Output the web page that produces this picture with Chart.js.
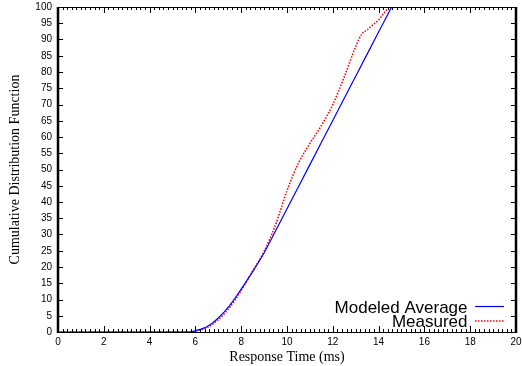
<!DOCTYPE html>
<html>
<head>
<meta charset="utf-8">
<script src="https://cdn.jsdelivr.net/npm/chart.js@4.4.0/dist/chart.umd.min.js"></script>
<style>
  html, body { margin: 0; padding: 0; background: #fff; }
  #wrap { width: 522px; height: 366px; }
</style>
</head>
<body>
<div id="wrap"><canvas id="cdf"></canvas></div>
<script>
// response time (ms) vs cumulative %
const modelX = [0, 5.8, 6, 6.25, 6.5, 6.75, 7, 7.25, 7.5, 7.75, 8, 8.25, 8.5, 8.75, 9, 9.5, 10, 10.5, 11, 11.5, 12, 12.5, 13, 13.5, 14, 14.57, 20];
const modelY = [0, 0, 0.4, 0.9, 1.6, 2.8, 4.3, 6.1, 8.2, 10.6, 13.2, 15.9, 18.6, 21.4, 24.3, 31.1, 37.9, 44.7, 51.5, 58.3, 65.1, 71.9, 78.7, 85.5, 92.3, 100, 100];

const measX = [0, 5.9, 6, 6.5, 7, 7.5, 8, 8.5, 9, 9.5, 10, 10.5, 11, 11.5, 12, 12.5, 13, 13.25, 13.5, 13.75, 14, 14.25, 14.5, 20];
const measY = [0, 0, 0.3, 1.3, 3.8, 7.6, 12.8, 18.7, 24.8, 33, 43.5, 52, 58, 63.5, 70, 78.5, 87.8, 91.5, 93, 94.5, 96, 98.2, 100, 100];

const labels = ["Modeled Average", "Measured"];
const xTicks = [0, 2, 4, 6, 8, 10, 12, 14, 16, 18, 20];
const yTicks = [0, 5, 10, 15, 20, 25, 30, 35, 40, 45, 50, 55, 60, 65, 70, 75, 80, 85, 90, 95, 100];

const toPts = (xs, ys) => xs.map((x, i) => ({ x: x, y: ys[i] }));

// gnuplot style frame with inward ticks
const framePlugin = {
  id: "frame",
  afterDatasetsDraw(chart) {
    const { ctx, chartArea: a, scales } = chart;
    const sx = scales.x, sy = scales.y;
    ctx.save();
    ctx.strokeStyle = "#000";
    ctx.lineWidth = 1;
    ctx.beginPath();
    // minor ticks every 0.2 on top and bottom
    for (let v = 0; v <= 20.001; v += 0.2) {
      const px = Math.round(sx.getPixelForValue(v)) + 0.5;
      ctx.moveTo(px, a.bottom); ctx.lineTo(px, a.bottom - 3);
      ctx.moveTo(px, a.top); ctx.lineTo(px, a.top + 3);
    }
    xTicks.forEach(v => {
      const px = Math.round(sx.getPixelForValue(v)) + 0.5;
      ctx.moveTo(px, a.bottom); ctx.lineTo(px, a.bottom - 6);
      ctx.moveTo(px, a.top); ctx.lineTo(px, a.top + 6);
    });
    yTicks.forEach(v => {
      const py = Math.round(sy.getPixelForValue(v)) + 0.5;
      ctx.moveTo(a.left, py); ctx.lineTo(a.left + 5, py);
      ctx.moveTo(a.right, py); ctx.lineTo(a.right - 5, py);
    });
    ctx.moveTo(a.left, a.top + 0.5); ctx.lineTo(a.right, a.top + 0.5);
    ctx.moveTo(a.left, a.bottom + 0.5); ctx.lineTo(a.right, a.bottom + 0.5);
    ctx.stroke();
    ctx.lineWidth = 2.5;
    ctx.beginPath();
    ctx.moveTo(a.left, a.top); ctx.lineTo(a.left, a.bottom + 1);
    ctx.moveTo(a.right, a.top); ctx.lineTo(a.right, a.bottom + 1);
    ctx.stroke();

    // key, bottom right inside the plot
    ctx.font = "17px 'Liberation Sans', Arial, sans-serif";
    ctx.textAlign = "right";
    ctx.textBaseline = "alphabetic";
    ctx.fillStyle = "#000";
    chart.data.datasets.forEach((ds, i) => {
      const y = 312.5 + i * 14.5;
      ctx.fillText(ds.label, 467.5, y);
      ctx.strokeStyle = ds.borderColor;
      ctx.lineWidth = ds.borderWidth;
      ctx.setLineDash(ds.borderDash || []);
      ctx.beginPath();
      ctx.moveTo(475, y - 6); ctx.lineTo(504, y - 6);
      ctx.stroke();
      ctx.setLineDash([]);
    });
    ctx.restore();
  }
};

new Chart(document.getElementById("cdf"), {
  type: "line",
  data: {
    datasets: [
      {
        label: labels[0],
        data: toPts(modelX, modelY),
        borderColor: "#0000ff",
        borderWidth: 1.2,
        pointRadius: 0,
        tension: 0
      },
      {
        label: labels[1],
        data: toPts(measX, measY),
        borderColor: "#ff0000",
        borderWidth: 1.6,
        borderDash: [1.5, 1.5],
        pointRadius: 0,
        cubicInterpolationMode: "monotone"
      }
    ]
  },
  plugins: [framePlugin],
  options: {
    responsive: true,
    maintainAspectRatio: false,
    animation: false,
    layout: { padding: { top: 7, right: 6, bottom: 0, left: 0 } },
    plugins: { legend: { display: false }, tooltip: { enabled: false } },
    scales: {
      x: {
        type: "linear",
        min: 0, max: 20,
        afterFit: (s) => { s.height = 34; s.paddingLeft = 0; s.paddingRight = 0; },
        afterBuildTicks: (s) => { s.ticks = xTicks.map(v => ({ value: v })); },
        grid: { display: false, drawTicks: false },
        border: { display: false },
        ticks: { padding: 4, color: "#000", font: { family: "'Liberation Sans', Arial, sans-serif", size: 10 }, maxRotation: 0 },
        title: {
          display: true,
          text: "Response Time (ms)",
          color: "#000",
          font: { family: "'Liberation Serif', 'Times New Roman', serif", size: 14 },
          padding: { top: 0, bottom: 0 }
        }
      },
      y: {
        min: 0, max: 100,
        afterFit: (s) => { s.width = 58; s.paddingTop = 0; s.paddingBottom = 0; },
        afterBuildTicks: (s) => { s.ticks = yTicks.map(v => ({ value: v })); },
        grid: { display: false, drawTicks: false },
        border: { display: false },
        ticks: { padding: 6, color: "#000", font: { family: "'Liberation Sans', Arial, sans-serif", size: 10 } },
        title: {
          display: true,
          text: "Cumulative Distribution Function",
          color: "#000",
          font: { family: "'Liberation Serif', 'Times New Roman', serif", size: 14 },
          padding: { top: 7, bottom: 0 }
        }
      }
    }
  }
});
</script>
</body>
</html>
